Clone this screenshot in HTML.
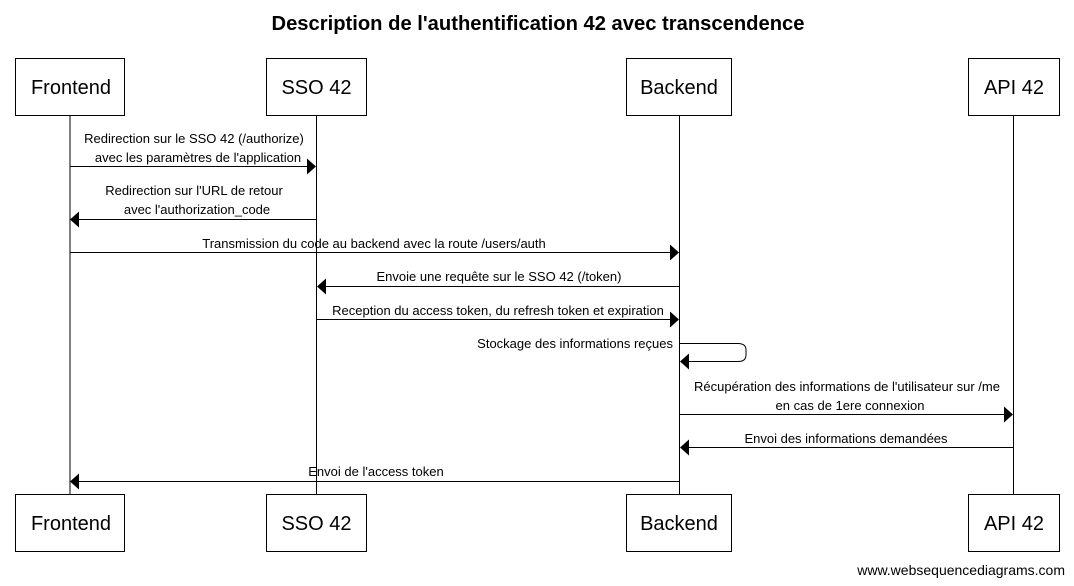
<!DOCTYPE html>
<html><head><meta charset="utf-8"><style>body{margin:0;background:#fff}svg{display:block}</style></head>
<body>
<svg width="1074" height="586" xmlns="http://www.w3.org/2000/svg" font-family="Liberation Sans, sans-serif">
<rect width="1074" height="586" fill="#fff"/>
<text x="538" y="30" text-anchor="middle" font-size="20" font-weight="bold" textLength="533" lengthAdjust="spacingAndGlyphs">Description de l'authentification 42 avec transcendence</text>
<g stroke="#000" stroke-width="1" fill="none">
<line x1="70" y1="115" x2="70" y2="494"/>
<line x1="316.5" y1="115" x2="316.5" y2="494"/>
<line x1="679.5" y1="115" x2="679.5" y2="494"/>
<line x1="1013.5" y1="115" x2="1013.5" y2="494"/>
<rect x="15.5" y="58.5" width="109" height="57" fill="#fff"/>
<rect x="266.5" y="58.5" width="100" height="57" fill="#fff"/>
<rect x="626.5" y="58.5" width="105" height="57" fill="#fff"/>
<rect x="968.5" y="58.5" width="91" height="57" fill="#fff"/>
<rect x="15.5" y="494.5" width="109" height="57" fill="#fff"/>
<rect x="266.5" y="494.5" width="100" height="57" fill="#fff"/>
<rect x="626.5" y="494.5" width="105" height="57" fill="#fff"/>
<rect x="968.5" y="494.5" width="91" height="57" fill="#fff"/>
<line x1="70" y1="166.5" x2="308" y2="166.5"/>
<line x1="78" y1="219.5" x2="316" y2="219.5"/>
<line x1="70" y1="252.5" x2="671" y2="252.5"/>
<line x1="325" y1="286.5" x2="679" y2="286.5"/>
<line x1="316" y1="319.5" x2="671" y2="319.5"/>
<path d="M679 343.5 H738 Q746 343.5 746 350 V355 Q746 361.5 738 361.5 H688"/>
<line x1="679" y1="414.5" x2="1005" y2="414.5"/>
<line x1="688" y1="447.5" x2="1013" y2="447.5"/>
<line x1="78" y1="481.5" x2="679" y2="481.5"/>
</g>
<g fill="#000">
<path d="M316 166.5 l-9 -8 v16z"/>
<path d="M70 219.5 l9 -8 v16z"/>
<path d="M679 252.5 l-9 -8 v16z"/>
<path d="M317 286.5 l9 -8 v16z"/>
<path d="M679 319.5 l-9 -8 v16z"/>
<path d="M680 361.5 l9 -8 v16z"/>
<path d="M1013 414.5 l-9 -8 v16z"/>
<path d="M680 447.5 l9 -8 v16z"/>
<path d="M70 481.5 l9 -8 v16z"/>
</g>
<g font-size="20" text-anchor="middle">
<text x="71" y="94">Frontend</text>
<text x="316.5" y="94">SSO 42</text>
<text x="679" y="94">Backend</text>
<text x="1014" y="94">API 42</text>
<text x="71" y="530">Frontend</text>
<text x="316.5" y="530">SSO 42</text>
<text x="679" y="530">Backend</text>
<text x="1014" y="530">API 42</text>
</g>
<g font-size="13" text-anchor="middle">
<text x="194" y="143">Redirection sur le SSO 42 (/authorize)</text>
<text x="198" y="162">avec les paramètres de l'application</text>
<text x="194" y="195">Redirection sur l'URL de retour</text>
<text x="197" y="214">avec l'authorization_code</text>
<text x="374" y="248">Transmission du code au backend avec la route /users/auth</text>
<text x="499" y="281">Envoie une requête sur le SSO 42 (/token)</text>
<text x="498" y="315">Reception du access token, du refresh token et expiration</text>
<text x="673" y="348" text-anchor="end">Stockage des informations reçues</text>
<text x="847" y="391">Récupération des informations de l'utilisateur sur /me</text>
<text x="850" y="410">en cas de 1ere connexion</text>
<text x="846" y="443">Envoi des informations demandées</text>
<text x="376" y="476">Envoi de l'access token</text>
<text x="1065" y="575" text-anchor="end" font-size="14">www.websequencediagrams.com</text>
</g>
</svg>
</body></html>
